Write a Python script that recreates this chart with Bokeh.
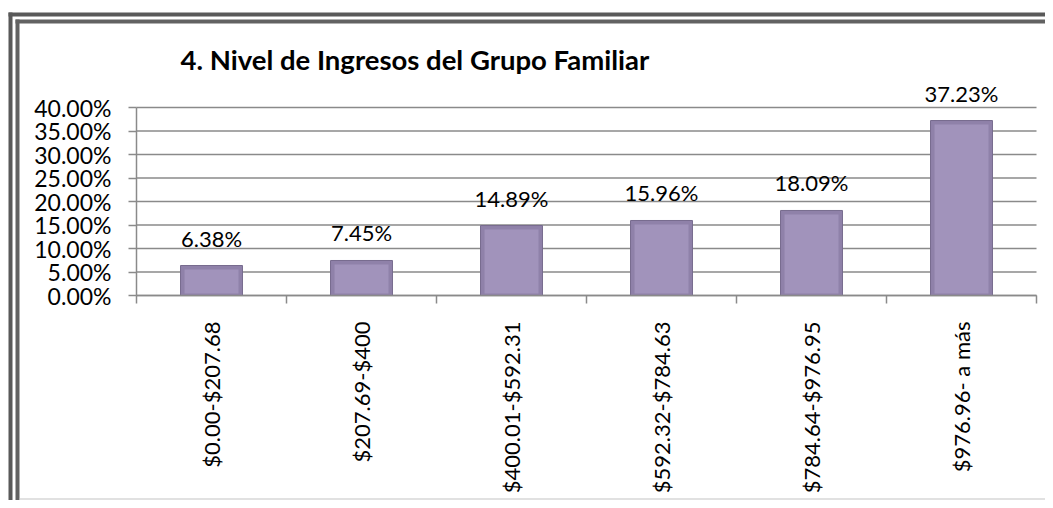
import math
from bokeh.plotting import figure
from bokeh.models import (FixedTicker, NumeralTickFormatter, Range1d, Label, LabelSet,
                          ColumnDataSource, CustomJSTickFormatter)
from bokeh.embed import file_html
from bokeh.resources import INLINE
from bokeh.core.properties import value

title = "4. Nivel de Ingresos del Grupo Familiar"
categories = ["$0.00-$207.68", "$207.69-$400", "$400.01-$592.31",
              "$592.32-$784.63", "$784.64-$976.95", "$976.96- a más"]
values = [0.0638, 0.0745, 0.1489, 0.1596, 0.1809, 0.3723]
y_ticks = [0, 0.05, 0.10, 0.15, 0.20, 0.25, 0.30, 0.35, 0.40]

FONT = "Lato"
W, H = 1045, 500
PX_LEFT, PX_RIGHT = 136, 1036      # plot-area pixel edges
PX_TOP, PX_ZERO = 107, 295         # y of top tick and of zero
n = len(categories)
ymax = y_ticks[-1]
xpp = (PX_RIGHT - PX_LEFT) / n
ypp = (PX_ZERO - PX_TOP) / ymax


def sx(px):
    return (px - PX_LEFT) / xpp


def sy(py):
    return (PX_ZERO - py) / ypp


x = [i + 0.5 for i in range(n)]
labels = [f"{v * 100:.2f}%" for v in values]
src = ColumnDataSource(dict(x=x, top=values, label=labels))

p = figure(width=W, height=H, output_backend="svg", toolbar_location=None, title=None,
           x_range=Range1d(sx(0), sx(W)), y_range=Range1d(sy(H), sy(0)),
           min_border=0)
p.outline_line_color = None
p.background_fill_color = "white"
p.border_fill_color = "white"
p.xgrid.visible = False
p.ygrid.visible = False

# frame decoration (double dark border left/top, light chart-area bottom edge)
p.quad(left=[sx(8), sx(8), sx(15), sx(15), sx(19)],
       right=[sx(12), sx(W + 10), sx(19), sx(W + 10), sx(W + 10)],
       top=[sy(12), sy(12), sy(19), sy(19), sy(H - 2)],
       bottom=[sy(H + 10), sy(16), sy(H + 10), sy(23), sy(H - 1)],
       fill_color=["#595959", "#595959", "#626262", "#626262", "#c4c4c4"],
       line_color=None)

# horizontal gridlines across the plot area
p.segment(x0=[0] * len(y_ticks), x1=[n] * len(y_ticks), y0=y_ticks, y1=y_ticks,
          line_color="#8a8a8a", line_width=1.5)

# y axis
ya = p.yaxis[0]
ya.fixed_location = 0
ya.bounds = (0, ymax)
ya.ticker = FixedTicker(ticks=y_ticks)
ya.formatter = NumeralTickFormatter(format="0.00%")
ya.major_tick_out = 8
ya.major_tick_in = 0
ya.minor_tick_out = 0
ya.minor_tick_in = 0
ya.major_tick_line_color = "#8a8a8a"
ya.major_tick_line_width = 1.5
ya.axis_line_color = "#8a8a8a"
ya.axis_line_width = 1.5
ya.major_label_standoff = 17
ya.major_label_text_font = FONT
ya.major_label_text_font_size = "23px"
ya.major_label_text_color = "black"

# x axis
xa = p.xaxis[0]
xa.fixed_location = 0
xa.bounds = (0, n)
xa.ticker = FixedTicker(ticks=x, minor_ticks=list(range(n + 1)))
xa.formatter = CustomJSTickFormatter(args=dict(cats=categories),
                                     code="return cats[Math.floor(tick)];")
xa.major_tick_out = 0
xa.major_tick_in = 0
xa.minor_tick_out = 8
xa.minor_tick_in = 0
xa.minor_tick_line_color = "#8a8a8a"
xa.minor_tick_line_width = 1.5
xa.axis_line_color = "#8a8a8a"
xa.axis_line_width = 1.5
xa.major_label_orientation = math.pi / 2
xa.major_label_standoff = 18
xa.major_label_text_font = FONT
xa.major_label_text_font_size = "22px"
xa.major_label_text_color = "black"

# bars (bevelled look: darker rim + lighter face)
bw = 0.413
rim_x = 4 / xpp
rim_y = 4 / ypp
p.vbar(x="x", top="top", bottom=0, width=bw, source=src,
       fill_color="#8f81a9", line_color="#776b8e", line_width=1)
face = ColumnDataSource(dict(x=x, top=[v - rim_y for v in values],
                             bottom=[rim_y * 0.5] * n))
p.vbar(x="x", top="top", bottom="bottom", width=bw - 2 * rim_x, source=face,
       fill_color="#a193bb", line_color=None)

# data labels
p.add_layout(LabelSet(x="x", y="top", text="label", source=src, y_offset=19,
                      text_align="center", text_baseline="alphabetic",
                      text_font=value(FONT), text_font_size=value("22px"),
                      text_color="black"))

# title
p.add_layout(Label(x=180, y=H - 59, x_units="screen", y_units="screen", text=title,
                   text_font=FONT, text_font_style="bold",
                   text_font_size="27.5px", text_color="black",
                   text_baseline="alphabetic"))

open("out.html", "w").write(file_html(p, INLINE))
